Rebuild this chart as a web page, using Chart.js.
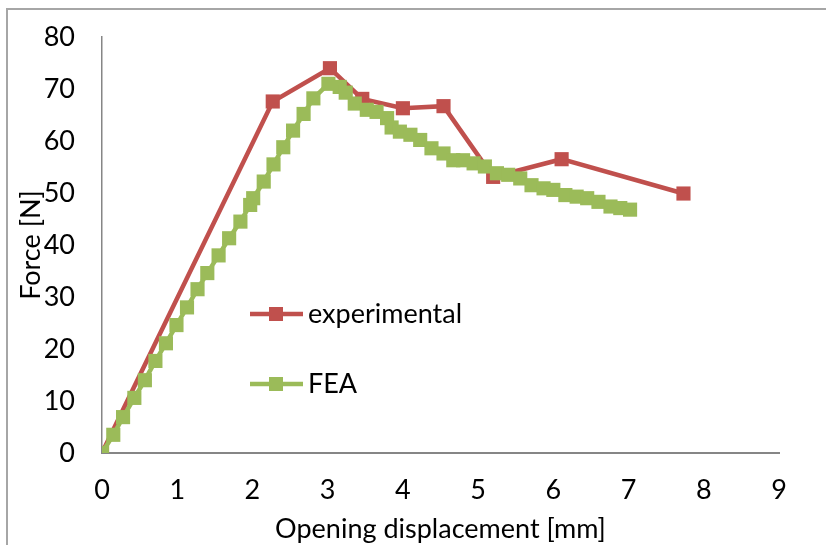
<!DOCTYPE html>
<html>
<head>
<meta charset="utf-8">
<script src="https://cdn.jsdelivr.net/npm/chart.js@4.4.1/dist/chart.umd.min.js"></script>
<style>
  html, body { margin: 0; padding: 0; background: #fff; overflow: hidden; }
  .frame { position: absolute; left: 6px; top: 8px; width: 900px; height: 600px; border: 2px solid #a6a6a6; }
  .wrap { position: absolute; left: 0; top: 0; width: 826px; height: 545px; }
</style>
</head>
<body>
<div class="frame"></div>
<div class="wrap"><canvas id="chart" width="826" height="545"></canvas></div>
<script>
const xTicks = [0, 1, 2, 3, 4, 5, 6, 7, 8, 9];
const yTicks = [0, 10, 20, 30, 40, 50, 60, 70, 80];

const expX = [0, 2.27, 3.03, 3.46, 4.0, 4.54, 5.2, 6.11, 7.73];
const expY = [0, 67.6, 74.0, 68.1, 66.3, 66.7, 53.1, 56.5, 49.9];

const feaX = [0, 0.15, 0.28, 0.43, 0.57, 0.71, 0.85, 0.99, 1.13, 1.27, 1.40, 1.55, 1.69, 1.84, 1.97, 2.01,
  2.15, 2.28, 2.41, 2.54, 2.68, 2.81, 3.01, 3.16, 3.24, 3.36, 3.52, 3.65, 3.79, 3.85, 3.96, 4.10, 4.23,
  4.38, 4.54, 4.67, 4.80, 4.94, 5.09, 5.25, 5.40, 5.56, 5.71, 5.87, 6.00, 6.16, 6.31, 6.45, 6.60, 6.76, 6.89, 7.02];
const feaY = [0, 3.5, 6.9, 10.6, 14.0, 17.7, 21.1, 24.6, 28.0, 31.5, 34.6, 38.0, 41.3, 44.5, 47.7, 49.0,
  52.2, 55.5, 58.8, 62.0, 65.2, 68.2, 71.0, 70.4, 69.3, 67.2, 66.0, 65.6, 64.4, 62.6, 61.8, 61.2, 60.2,
  58.6, 57.6, 56.3, 56.3, 55.7, 55.1, 53.8, 53.5, 52.8, 51.5, 50.9, 50.6, 49.6, 49.3, 49.0, 48.3, 47.4, 47.1, 46.8];

const RED = "#c0504d";
const GREEN = "#9bbb59";
const AXIS = "#868686";
const FONT = "Lato, 'Noto Sans', sans-serif";
const FS = 27;

const pts = (xs, ys) => xs.map((x, i) => ({ x, y: ys[i] }));

// legend drawn inside the plot like the Excel original
const insideLegend = {
  id: "insideLegend",
  afterDraw(chart) {
    const ctx = chart.ctx;
    const items = [
      { label: "experimental", color: RED, y: 314 },
      { label: "FEA", color: GREEN, y: 384 },
    ];
    ctx.save();
    items.forEach((it) => {
      ctx.strokeStyle = it.color;
      ctx.lineWidth = 4.5;
      ctx.beginPath();
      ctx.moveTo(250, it.y);
      ctx.lineTo(303, it.y);
      ctx.stroke();
      ctx.fillStyle = it.color;
      ctx.fillRect(276 - 7, it.y - 7, 14, 14);
      ctx.fillStyle = "#000";
      ctx.font = `${FS}px ${FONT}`;
      ctx.textBaseline = "middle";
      ctx.fillText(it.label, 308, it.y);
    });
    ctx.restore();
  },
};

new Chart(document.getElementById("chart"), {
  type: "scatter",
  data: {
    datasets: [
      {
        label: "experimental",
        data: pts(expX, expY),
        showLine: true,
        borderColor: RED,
        backgroundColor: RED,
        borderWidth: 4.5,
        pointStyle: "rect",
        pointRadius: 10,
        pointBorderWidth: 0,
        order: 2,
      },
      {
        label: "FEA",
        data: pts(feaX, feaY),
        showLine: true,
        borderColor: GREEN,
        backgroundColor: GREEN,
        borderWidth: 4.5,
        pointStyle: "rect",
        pointRadius: 10,
        pointBorderWidth: 0,
        order: 1,
      },
    ],
  },
  options: {
    responsive: false,
    animation: false,
    layout: { padding: { left: 0, top: 37, right: 47, bottom: 0 } },
    plugins: { legend: { display: false }, tooltip: { enabled: false } },
    scales: {
      x: {
        type: "linear",
        min: 0,
        max: 9,
        afterBuildTicks: (s) => { s.ticks = xTicks.map((v) => ({ value: v })); },
        afterFit: (s) => { s.height = 92; s.paddingLeft = 0; s.paddingRight = 0; },
        ticks: { color: "#000", font: { family: FONT, size: FS }, padding: 21 },
        grid: { drawOnChartArea: false, drawTicks: false },
        border: { color: AXIS, width: 2 },
        title: { display: true, text: "Opening displacement [mm]", color: "#000", font: { family: FONT, size: FS }, padding: { top: 0, bottom: 0 } },
      },
      y: {
        type: "linear",
        min: 0,
        max: 80,
        afterBuildTicks: (s) => { s.ticks = yTicks.map((v) => ({ value: v })); },
        afterFit: (s) => { s.width = 102; s.paddingTop = 0; s.paddingBottom = 0; },
        ticks: { color: "#000", font: { family: FONT, size: FS }, padding: 27 },
        grid: { drawOnChartArea: false, drawTicks: false },
        border: { color: AXIS, width: 1.5 },
        title: { display: true, text: "Force [N]", color: "#000", font: { family: FONT, size: FS }, padding: { top: 15, bottom: 0 } },
      },
    },
  },
  plugins: [insideLegend],
});
</script>
</body>
</html>
